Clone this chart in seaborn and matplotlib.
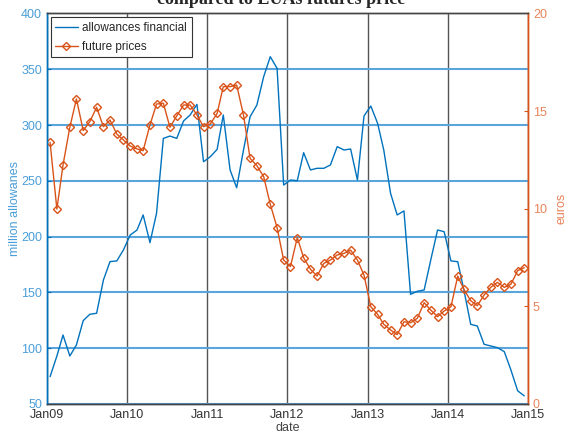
import matplotlib
matplotlib.use("Agg")
import matplotlib.pyplot as plt
import matplotlib.dates as mdates
import seaborn as sns
import pandas as pd

# monthly values, Jan 2009 .. Dec 2014 (mid-month)
months = pd.date_range("2009-01-01", periods=72, freq="MS") + pd.Timedelta(days=14)

allowances = [74.5, 93, 111.8, 93, 102.9, 124.7, 130.4, 131.3, 161.1, 177.6, 178.2, 188,
              201.4, 205.9, 219.4, 194.6, 220.9, 288, 290.1, 288, 303.6, 309, 318.5, 267.1,
              271.6, 278.2, 309, 259.7, 243.8, 277.6, 307.4, 317.9, 343.3, 361.2, 350.8, 246.2,
              250.7, 250.1, 275.2, 259.7, 261.2, 261.2, 264.2, 280.6, 277.6, 278.5, 250.7, 308.1,
              317, 301.5, 277.6, 238.8, 219.4, 223, 148.3, 151, 152.2, 179, 205.9, 204.4,
              178.2, 177.5, 152.2, 121.4, 119.9, 103.5, 102, 100.5, 96.9, 80.6, 61.8, 57.3]

prices = [13.40, 9.98, 12.24, 14.17, 15.62, 14.0, 14.46, 15.19, 14.2, 14.54, 13.82, 13.52,
          13.21, 13.06, 12.97, 14.29, 15.36, 15.40, 14.17, 14.75, 15.31, 15.31, 14.80, 14.20,
          14.34, 14.88, 16.25, 16.25, 16.33, 14.80, 12.58, 12.20, 11.64, 10.23, 9.03, 7.37,
          7.04, 8.52, 7.49, 6.90, 6.55, 7.20, 7.37, 7.63, 7.71, 7.88, 7.37, 6.60,
          4.98, 4.59, 4.08, 3.79, 3.55, 4.21, 4.16, 4.39, 5.19, 4.81, 4.47, 4.76,
          4.98, 6.55, 5.87, 5.29, 5.03, 5.58, 5.97, 6.23, 5.97, 6.13, 6.83, 6.98]

left_ticks = [50, 100, 150, 200, 250, 300, 350, 400]
right_ticks = [0, 5, 10, 15, 20]

df = pd.DataFrame({"date": months, "allowances": allowances, "prices": prices})

BLUE = "#0072BD"
ORANGE = "#D95319"
GRIDBLUE = "#5aa6dc"

sns.set_style("white")
plt.rcParams["font.family"] = ["Liberation Sans", "DejaVu Sans"]

fig = plt.figure(figsize=(5.68, 4.37), dpi=100)
ax = fig.add_axes([47 / 568, 1 - 404 / 437, (528 - 47) / 568, (404 - 13.4) / 437])
ax2 = ax.twinx()

sns.lineplot(data=df, x="date", y="allowances", ax=ax, color=BLUE, lw=1.0,
             label="allowances financial", legend=False)
sns.lineplot(data=df, x="date", y="prices", ax=ax2, color=ORANGE, lw=1.0,
             marker="D", markersize=4.0, markerfacecolor="none",
             markeredgecolor=ORANGE, markeredgewidth=1.0,
             label="future prices", legend=False)

ax.set_xlim(pd.Timestamp("2009-01-01"), pd.Timestamp("2015-01-01"))
ax.set_ylim(50, 400)
ax2.set_ylim(0, 20)
ax.set_yticks(left_ticks)
ax2.set_yticks(right_ticks)
ax.xaxis.set_major_locator(mdates.YearLocator())
ax.xaxis.set_major_formatter(mdates.DateFormatter("Jan%y"))

# grids: blue horizontal, dark vertical
ax.yaxis.grid(True, color=GRIDBLUE, lw=1.5)
ax.xaxis.grid(True, color="#555555", lw=1.0)
ax.set_axisbelow(True)

ax.tick_params(axis="y", direction="in", colors=BLUE, labelcolor="#4a9ed8", labelsize=9, length=3)
ax.tick_params(axis="x", direction="in", colors="#444444", labelcolor="#333333", labelsize=9, length=3)
ax2.tick_params(axis="y", direction="in", colors=ORANGE, labelcolor="#e8845a", labelsize=9, length=3)

for a in (ax, ax2):
    a.spines["top"].set_color("#444444")
    a.spines["bottom"].set_color("#444444")
    a.spines["left"].set_color(BLUE)
    a.spines["right"].set_color(ORANGE)
    for s in a.spines.values():
        s.set_linewidth(1.0)

ax.set_ylabel("million allowanes", color="#4a9ed8", fontsize=9, labelpad=0)
ax2.set_ylabel("euros", color="#e8845a", fontsize=9, labelpad=6)
ax.set_xlabel("date", color="#444444", fontsize=9, labelpad=1)

h1, l1 = ax.get_legend_handles_labels()
h2, l2 = ax2.get_legend_handles_labels()
leg = ax2.legend(h1 + h2, l1 + l2, loc="upper left", fontsize=8.5, frameon=True,
                 fancybox=False, edgecolor="#333333", framealpha=1,
                 borderaxespad=0.3, handlelength=1.9, handletextpad=0.4,
                 borderpad=0.4, labelspacing=0.6)
leg.get_frame().set_linewidth(0.8)

fig.text(0.495, 1 - 3.6 / 437, "compared to EUAs futures price", ha="center", va="baseline",
         fontsize=13, fontweight="bold", family=["Liberation Serif", "DejaVu Serif"])

fig.savefig("out.png", dpi=100)
